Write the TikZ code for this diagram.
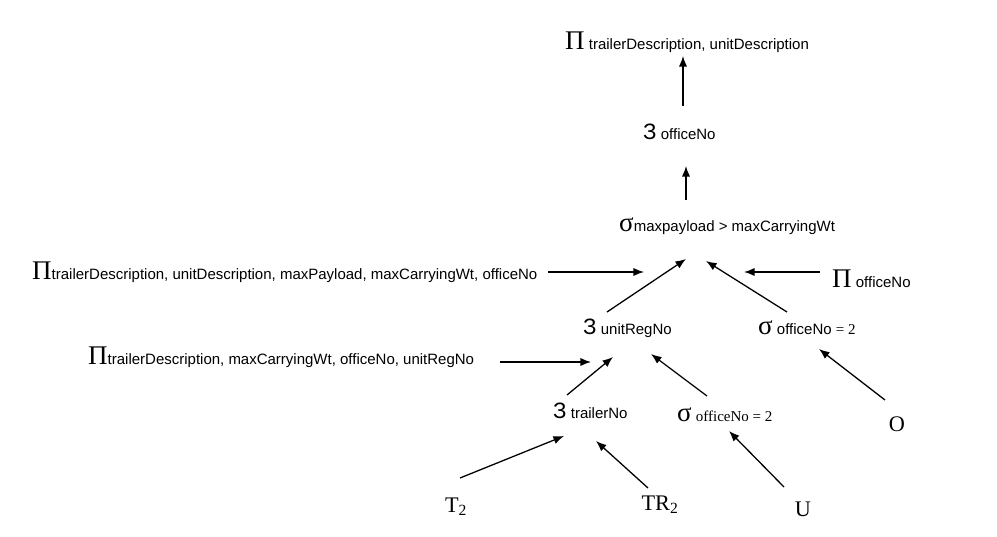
\documentclass[tikz,border=0pt]{standalone}
\usepackage{fontspec}
\setmainfont{Liberation Serif}
\setsansfont{Liberation Sans}
\usepackage{tikz}
\usetikzlibrary{positioning,arrows.meta}
\newcommand{\bigsym}[1]{{\rmfamily\fontsize{23}{23}\selectfont #1}}
\newcommand{\joinsym}{{\sffamily\fontsize{19}{19}\selectfont З}}

\begin{document}
\begin{tikzpicture}[x=0.03cm, y=-0.03cm,
    op/.style={anchor=west, inner sep=0pt, font=\sffamily\fontsize{12.8}{14}\selectfont},
    rel/.style={inner sep=0pt, font=\rmfamily\fontsize{19}{20}\selectfont},
    arr/.style={-{Latex[length=9pt,width=7pt]}, line width=1.1pt}]
  \useasboundingbox (0,0) rectangle (997,537);
  % operator nodes
  \node[op] (proj) at (565,42) {\bigsym{Π} trailerDescription, unitDescription};
  \node[op] (joff) at (643,132) {\joinsym\ officeNo};
  \node[op] (sel) at (619,226) {\bigsym{σ}maxpayload > maxCarryingWt};
  \node[op] (projA) at (32,272) {\bigsym{Π}trailerDescription, unitDescription, maxPayload, maxCarryingWt, officeNo};
  \node[op] (projO) at (832,279) {\bigsym{Π} officeNo};
  \node[op] (junit) at (583,328) {\joinsym\ unitRegNo};
  \node[op] (selO) at (758,328) {\bigsym{σ} officeNo {\rmfamily= 2}};
  \node[op] (projB) at (88,357) {\bigsym{Π}trailerDescription, maxCarryingWt, officeNo, unitRegNo};
  \node[op] (jtrl) at (553,411) {\joinsym\ trailerNo};
  \node[op] (selU) at (677,415) {\bigsym{σ} {\rmfamily officeNo = 2}};
  % relations
  \node[rel] (O) at (897,424) {O};
  \node[rel] (T) at (456,507) {T\textsubscript{2}};
  \node[rel] (TR) at (660,505) {TR\textsubscript{2}};
  \node[rel] (U) at (803,509) {U};
  % arrow ends
  \coordinate (a1) at (683,106); \coordinate (b1) at (683,56);
  \coordinate (a2) at (686,200); \coordinate (b2) at (686,166);
  \coordinate (a3) at (548,272); \coordinate (b3) at (644,272);
  \coordinate (a4) at (607,312); \coordinate (b4) at (686,259);
  \coordinate (a5) at (787,312); \coordinate (b5) at (706,261);
  \coordinate (a6) at (820,272); \coordinate (b6) at (744,272);
  \coordinate (a7) at (500,362); \coordinate (b7) at (591,362);
  \coordinate (a8) at (567,395); \coordinate (b8) at (613,357);
  \coordinate (a9) at (707,396); \coordinate (b9) at (651,354);
  \coordinate (a10) at (885,400); \coordinate (b10) at (819,349);
  \coordinate (a11) at (460,478); \coordinate (b11) at (564,436);
  \coordinate (a12) at (648,488); \coordinate (b12) at (596,441);
  \coordinate (a13) at (784,487); \coordinate (b13) at (729,431);
  \foreach \i in {1,...,13}
    \draw[arr] (a\i) -- (b\i);
\end{tikzpicture}
\end{document}
